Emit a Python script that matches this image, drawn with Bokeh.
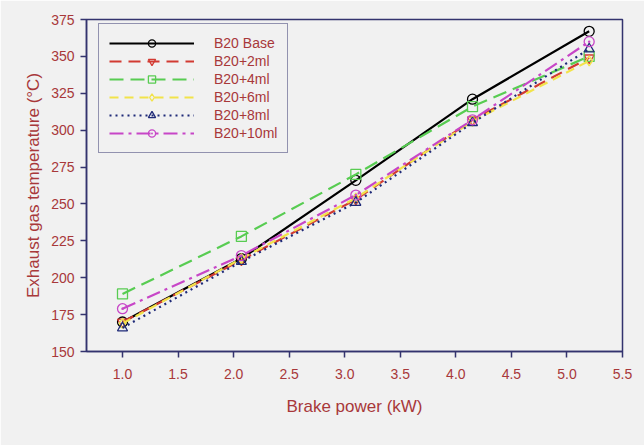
from bokeh.plotting import figure
from bokeh.models import Range1d, FixedTicker, NumeralTickFormatter, Legend
from bokeh.embed import file_html
from bokeh.resources import INLINE

# Brake power (kW) at each load step
power = [1.0, 2.07, 3.1, 4.15, 5.2]

# Exhaust gas temperature (°C) for each blend
b20_base = [170, 213, 266, 321, 367]
b20_2ml = [170, 212, 253, 307, 349]
b20_4ml = [189, 228, 270, 316, 350]
b20_6ml = [169, 213, 254, 306, 347]
b20_8ml = [166, 211, 251, 305, 355]
b20_10ml = [179, 215, 256, 307, 360]

x_ticks = [1.0, 1.5, 2.0, 2.5, 3.0, 3.5, 4.0, 4.5, 5.0, 5.5]
y_ticks = [150, 175, 200, 225, 250, 275, 300, 325, 350, 375]

BG = "#f1f1f1"
AXIS = "#33336e"
TEXT = "#a8383a"
FONT = "Liberation Sans"

p = figure(width=644, height=445, output_backend="svg", toolbar_location=None,
           x_range=Range1d(0.676, 5.5), y_range=Range1d(150, 375),
           min_border_left=86, min_border_right=22, min_border_top=19,
           min_border_bottom=94)
p.background_fill_color = BG
p.border_fill_color = BG
p.outline_line_color = AXIS
p.outline_line_width = 1.5
p.xgrid.visible = False
p.ygrid.visible = False

for ax in (p.xaxis[0], p.yaxis[0]):
    ax.axis_line_color = AXIS
    ax.axis_line_width = 1.5
    ax.major_tick_line_color = AXIS
    ax.major_tick_line_width = 1.5
    ax.major_tick_out = 6
    ax.major_tick_in = 0
    ax.minor_tick_line_color = None
    ax.major_label_text_color = TEXT
    ax.major_label_text_font = FONT
    ax.major_label_text_font_size = "14px"
    ax.axis_label_text_color = TEXT
    ax.axis_label_text_font = FONT
    ax.axis_label_text_font_size = "17px"
    ax.axis_label_text_font_style = "normal"

p.xaxis.ticker = FixedTicker(ticks=x_ticks)
p.xaxis.formatter = NumeralTickFormatter(format="0.0")
p.yaxis.ticker = FixedTicker(ticks=y_ticks)
p.xaxis.axis_label = "Brake power (kW)"
p.yaxis.axis_label = "Exhaust gas temperature (°C)"
p.xaxis.major_label_standoff = 11
p.yaxis.major_label_standoff = 6
p.xaxis.axis_label_standoff = 15
p.yaxis.axis_label_standoff = 5

series = [
    ("B20 Base", b20_base, "black", None, "circle"),
    ("B20+2ml", b20_2ml, "#d23a32", "12 7", "inverted_triangle"),
    ("B20+4ml", b20_4ml, "#58cc52", "14 7", "square"),
    ("B20+6ml", b20_6ml, "#f2e34a", "9 6", "diamond"),
    ("B20+8ml", b20_8ml, "#1f2a78", "2 4", "triangle"),
    ("B20+10ml", b20_10ml, "#c746c7", "14 5 3 5", "circle_dot"),
]

items = []
for name, vals, color, dash, marker in series:
    kw = {} if dash is None else {"line_dash": dash}
    ln = p.line(power, vals, line_color=color, line_width=2.2, **kw)
    mk = p.scatter(power, vals, marker=marker, size=10, line_color=color,
                   line_width=1.3, fill_color=None)
    items.append((name, [ln, mk]))

legend = Legend(items=items, location=(12, 198))
legend.background_fill_color = BG
legend.background_fill_alpha = 1
legend.border_line_color = AXIS
legend.border_line_width = 1.5
legend.label_text_color = TEXT
legend.label_text_font = FONT
legend.label_text_font_size = "14px"
legend.glyph_width = 85
legend.glyph_height = 18
legend.label_standoff = 20
legend.label_height = 18
legend.spacing = 0
legend.padding = 10
legend.margin = 0
p.add_layout(legend, "center")

open("out.html", "w").write(file_html(p, INLINE))
